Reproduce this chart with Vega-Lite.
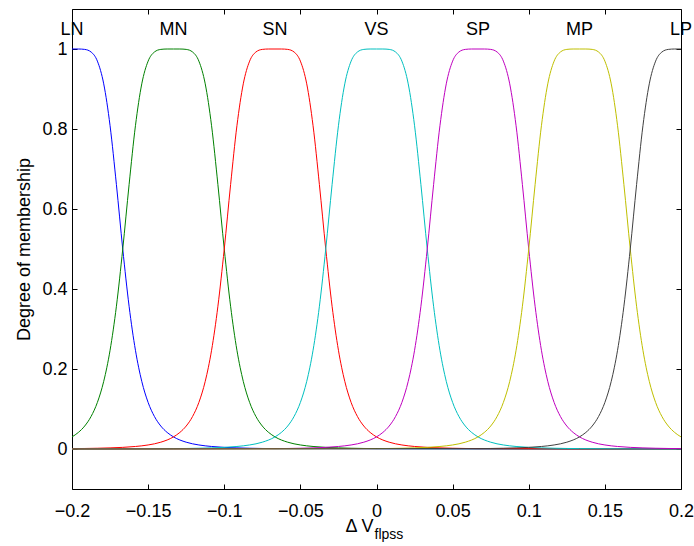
{
"$schema": "https://vega.github.io/schema/vega-lite/v6.json",
"width": 609,
"height": 480,
"autosize": {"type": "none"},
"padding": {"left": 72, "top": 9, "right": 13, "bottom": 57},
"background": "white",
"config": {"view": {"stroke": null}, "font": "Liberation Sans"},
"datasets": {
"lab": [{"label":"LN","c":-0.2},{"label":"MN","c":-0.13333},{"label":"SN","c":-0.06667},{"label":"VS","c":0},{"label":"SP","c":0.06667},{"label":"MP","c":0.13333},{"label":"LP","c":0.2}],
"mf": [
{"s":"LN","x":-0.2,"y":1},{"s":"LN","x":-0.19583,"y":1},{"s":"LN","x":-0.19167,"y":0.999},{"s":"LN","x":-0.1875,"y":0.9926},{"s":"LN","x":-0.18333,"y":0.9697},{"s":"LN","x":-0.17917,"y":0.9129},{"s":"LN","x":-0.175,"y":0.8082},{"s":"LN","x":-0.17083,"y":0.661},{"s":"LN","x":-0.16667,"y":0.5},{"s":"LN","x":-0.1625,"y":0.3569},{"s":"LN","x":-0.15833,"y":0.2468},{"s":"LN","x":-0.15417,"y":0.1691},{"s":"LN","x":-0.15,"y":0.1164},{"s":"LN","x":-0.14583,"y":0.0811},{"s":"LN","x":-0.14167,"y":0.0574},{"s":"LN","x":-0.1375,"y":0.0414},{"s":"LN","x":-0.13333,"y":0.0303},{"s":"LN","x":-0.125,"y":0.017},{"s":"LN","x":-0.11667,"y":0.0101},{"s":"LN","x":-0.10833,"y":0.0063},{"s":"LN","x":-0.1,"y":0.0041},{"s":"LN","x":-0.09167,"y":0.0028},{"s":"LN","x":-0.08333,"y":0.0019},{"s":"LN","x":-0.075,"y":0.0013},{"s":"LN","x":-0.06667,"y":0.001},{"s":"LN","x":0.2,"y":0},
{"s":"MN","x":-0.2,"y":0.0303},{"s":"MN","x":-0.19583,"y":0.0414},{"s":"MN","x":-0.19167,"y":0.0574},{"s":"MN","x":-0.1875,"y":0.0811},{"s":"MN","x":-0.18333,"y":0.1164},{"s":"MN","x":-0.17917,"y":0.1691},{"s":"MN","x":-0.175,"y":0.2468},{"s":"MN","x":-0.17083,"y":0.3569},{"s":"MN","x":-0.16667,"y":0.5},{"s":"MN","x":-0.1625,"y":0.661},{"s":"MN","x":-0.15833,"y":0.8082},{"s":"MN","x":-0.15417,"y":0.9129},{"s":"MN","x":-0.15,"y":0.9697},{"s":"MN","x":-0.14583,"y":0.9926},{"s":"MN","x":-0.14167,"y":0.999},{"s":"MN","x":-0.1375,"y":1},{"s":"MN","x":-0.13333,"y":1},{"s":"MN","x":-0.12917,"y":1},{"s":"MN","x":-0.125,"y":0.999},{"s":"MN","x":-0.12083,"y":0.9926},{"s":"MN","x":-0.11667,"y":0.9697},{"s":"MN","x":-0.1125,"y":0.9129},{"s":"MN","x":-0.10833,"y":0.8082},{"s":"MN","x":-0.10417,"y":0.661},{"s":"MN","x":-0.1,"y":0.5},{"s":"MN","x":-0.09583,"y":0.3569},{"s":"MN","x":-0.09167,"y":0.2468},{"s":"MN","x":-0.0875,"y":0.1691},{"s":"MN","x":-0.08333,"y":0.1164},{"s":"MN","x":-0.07917,"y":0.0811},{"s":"MN","x":-0.075,"y":0.0574},{"s":"MN","x":-0.07083,"y":0.0414},{"s":"MN","x":-0.06667,"y":0.0303},{"s":"MN","x":-0.05833,"y":0.017},{"s":"MN","x":-0.05,"y":0.0101},{"s":"MN","x":-0.04167,"y":0.0063},{"s":"MN","x":-0.03333,"y":0.0041},{"s":"MN","x":-0.025,"y":0.0028},{"s":"MN","x":-0.01667,"y":0.0019},{"s":"MN","x":-0.00833,"y":0.0013},{"s":"MN","x":0,"y":0.001},{"s":"MN","x":0.2,"y":0},
{"s":"SN","x":-0.2,"y":0.001},{"s":"SN","x":-0.19167,"y":0.0013},{"s":"SN","x":-0.18333,"y":0.0019},{"s":"SN","x":-0.175,"y":0.0028},{"s":"SN","x":-0.16667,"y":0.0041},{"s":"SN","x":-0.15833,"y":0.0063},{"s":"SN","x":-0.15,"y":0.0101},{"s":"SN","x":-0.14167,"y":0.017},{"s":"SN","x":-0.13333,"y":0.0303},{"s":"SN","x":-0.12917,"y":0.0414},{"s":"SN","x":-0.125,"y":0.0574},{"s":"SN","x":-0.12083,"y":0.0811},{"s":"SN","x":-0.11667,"y":0.1164},{"s":"SN","x":-0.1125,"y":0.1691},{"s":"SN","x":-0.10833,"y":0.2468},{"s":"SN","x":-0.10417,"y":0.3569},{"s":"SN","x":-0.1,"y":0.5},{"s":"SN","x":-0.09583,"y":0.661},{"s":"SN","x":-0.09167,"y":0.8082},{"s":"SN","x":-0.0875,"y":0.9129},{"s":"SN","x":-0.08333,"y":0.9697},{"s":"SN","x":-0.07917,"y":0.9926},{"s":"SN","x":-0.075,"y":0.999},{"s":"SN","x":-0.07083,"y":1},{"s":"SN","x":-0.06667,"y":1},{"s":"SN","x":-0.0625,"y":1},{"s":"SN","x":-0.05833,"y":0.999},{"s":"SN","x":-0.05417,"y":0.9926},{"s":"SN","x":-0.05,"y":0.9697},{"s":"SN","x":-0.04583,"y":0.9129},{"s":"SN","x":-0.04167,"y":0.8082},{"s":"SN","x":-0.0375,"y":0.661},{"s":"SN","x":-0.03333,"y":0.5},{"s":"SN","x":-0.02917,"y":0.3569},{"s":"SN","x":-0.025,"y":0.2468},{"s":"SN","x":-0.02083,"y":0.1691},{"s":"SN","x":-0.01667,"y":0.1164},{"s":"SN","x":-0.0125,"y":0.0811},{"s":"SN","x":-0.00833,"y":0.0574},{"s":"SN","x":-0.00417,"y":0.0414},{"s":"SN","x":0,"y":0.0303},{"s":"SN","x":0.00833,"y":0.017},{"s":"SN","x":0.01667,"y":0.0101},{"s":"SN","x":0.025,"y":0.0063},{"s":"SN","x":0.03333,"y":0.0041},{"s":"SN","x":0.04167,"y":0.0028},{"s":"SN","x":0.05,"y":0.0019},{"s":"SN","x":0.05833,"y":0.0013},{"s":"SN","x":0.06667,"y":0.001},{"s":"SN","x":0.2,"y":0},
{"s":"VS","x":-0.2,"y":0},{"s":"VS","x":-0.13333,"y":0.001},{"s":"VS","x":-0.125,"y":0.0013},{"s":"VS","x":-0.11667,"y":0.0019},{"s":"VS","x":-0.10833,"y":0.0028},{"s":"VS","x":-0.1,"y":0.0041},{"s":"VS","x":-0.09167,"y":0.0063},{"s":"VS","x":-0.08333,"y":0.0101},{"s":"VS","x":-0.075,"y":0.017},{"s":"VS","x":-0.06667,"y":0.0303},{"s":"VS","x":-0.0625,"y":0.0414},{"s":"VS","x":-0.05833,"y":0.0574},{"s":"VS","x":-0.05417,"y":0.0811},{"s":"VS","x":-0.05,"y":0.1164},{"s":"VS","x":-0.04583,"y":0.1691},{"s":"VS","x":-0.04167,"y":0.2468},{"s":"VS","x":-0.0375,"y":0.3569},{"s":"VS","x":-0.03333,"y":0.5},{"s":"VS","x":-0.02917,"y":0.661},{"s":"VS","x":-0.025,"y":0.8082},{"s":"VS","x":-0.02083,"y":0.9129},{"s":"VS","x":-0.01667,"y":0.9697},{"s":"VS","x":-0.0125,"y":0.9926},{"s":"VS","x":-0.00833,"y":0.999},{"s":"VS","x":-0.00417,"y":1},{"s":"VS","x":0,"y":1},{"s":"VS","x":0.00417,"y":1},{"s":"VS","x":0.00833,"y":0.999},{"s":"VS","x":0.0125,"y":0.9926},{"s":"VS","x":0.01667,"y":0.9697},{"s":"VS","x":0.02083,"y":0.9129},{"s":"VS","x":0.025,"y":0.8082},{"s":"VS","x":0.02917,"y":0.661},{"s":"VS","x":0.03333,"y":0.5},{"s":"VS","x":0.0375,"y":0.3569},{"s":"VS","x":0.04167,"y":0.2468},{"s":"VS","x":0.04583,"y":0.1691},{"s":"VS","x":0.05,"y":0.1164},{"s":"VS","x":0.05417,"y":0.0811},{"s":"VS","x":0.05833,"y":0.0574},{"s":"VS","x":0.0625,"y":0.0414},{"s":"VS","x":0.06667,"y":0.0303},{"s":"VS","x":0.075,"y":0.017},{"s":"VS","x":0.08333,"y":0.0101},{"s":"VS","x":0.09167,"y":0.0063},{"s":"VS","x":0.1,"y":0.0041},{"s":"VS","x":0.10833,"y":0.0028},{"s":"VS","x":0.11667,"y":0.0019},{"s":"VS","x":0.125,"y":0.0013},{"s":"VS","x":0.13333,"y":0.001},{"s":"VS","x":0.2,"y":0},
{"s":"SP","x":-0.2,"y":0},{"s":"SP","x":-0.06667,"y":0.001},{"s":"SP","x":-0.05833,"y":0.0013},{"s":"SP","x":-0.05,"y":0.0019},{"s":"SP","x":-0.04167,"y":0.0028},{"s":"SP","x":-0.03333,"y":0.0041},{"s":"SP","x":-0.025,"y":0.0063},{"s":"SP","x":-0.01667,"y":0.0101},{"s":"SP","x":-0.00833,"y":0.017},{"s":"SP","x":0,"y":0.0303},{"s":"SP","x":0.00417,"y":0.0414},{"s":"SP","x":0.00833,"y":0.0574},{"s":"SP","x":0.0125,"y":0.0811},{"s":"SP","x":0.01667,"y":0.1164},{"s":"SP","x":0.02083,"y":0.1691},{"s":"SP","x":0.025,"y":0.2468},{"s":"SP","x":0.02917,"y":0.3569},{"s":"SP","x":0.03333,"y":0.5},{"s":"SP","x":0.0375,"y":0.661},{"s":"SP","x":0.04167,"y":0.8082},{"s":"SP","x":0.04583,"y":0.9129},{"s":"SP","x":0.05,"y":0.9697},{"s":"SP","x":0.05417,"y":0.9926},{"s":"SP","x":0.05833,"y":0.999},{"s":"SP","x":0.0625,"y":1},{"s":"SP","x":0.06667,"y":1},{"s":"SP","x":0.07083,"y":1},{"s":"SP","x":0.075,"y":0.999},{"s":"SP","x":0.07917,"y":0.9926},{"s":"SP","x":0.08333,"y":0.9697},{"s":"SP","x":0.0875,"y":0.9129},{"s":"SP","x":0.09167,"y":0.8082},{"s":"SP","x":0.09583,"y":0.661},{"s":"SP","x":0.1,"y":0.5},{"s":"SP","x":0.10417,"y":0.3569},{"s":"SP","x":0.10833,"y":0.2468},{"s":"SP","x":0.1125,"y":0.1691},{"s":"SP","x":0.11667,"y":0.1164},{"s":"SP","x":0.12083,"y":0.0811},{"s":"SP","x":0.125,"y":0.0574},{"s":"SP","x":0.12917,"y":0.0414},{"s":"SP","x":0.13333,"y":0.0303},{"s":"SP","x":0.14167,"y":0.017},{"s":"SP","x":0.15,"y":0.0101},{"s":"SP","x":0.15833,"y":0.0063},{"s":"SP","x":0.16667,"y":0.0041},{"s":"SP","x":0.175,"y":0.0028},{"s":"SP","x":0.18333,"y":0.0019},{"s":"SP","x":0.19167,"y":0.0013},{"s":"SP","x":0.2,"y":0.001},
{"s":"MP","x":-0.2,"y":0},{"s":"MP","x":0,"y":0.001},{"s":"MP","x":0.00833,"y":0.0013},{"s":"MP","x":0.01667,"y":0.0019},{"s":"MP","x":0.025,"y":0.0028},{"s":"MP","x":0.03333,"y":0.0041},{"s":"MP","x":0.04167,"y":0.0063},{"s":"MP","x":0.05,"y":0.0101},{"s":"MP","x":0.05833,"y":0.017},{"s":"MP","x":0.06667,"y":0.0303},{"s":"MP","x":0.07083,"y":0.0414},{"s":"MP","x":0.075,"y":0.0574},{"s":"MP","x":0.07917,"y":0.0811},{"s":"MP","x":0.08333,"y":0.1164},{"s":"MP","x":0.0875,"y":0.1691},{"s":"MP","x":0.09167,"y":0.2468},{"s":"MP","x":0.09583,"y":0.3569},{"s":"MP","x":0.1,"y":0.5},{"s":"MP","x":0.10417,"y":0.661},{"s":"MP","x":0.10833,"y":0.8082},{"s":"MP","x":0.1125,"y":0.9129},{"s":"MP","x":0.11667,"y":0.9697},{"s":"MP","x":0.12083,"y":0.9926},{"s":"MP","x":0.125,"y":0.999},{"s":"MP","x":0.12917,"y":1},{"s":"MP","x":0.13333,"y":1},{"s":"MP","x":0.1375,"y":1},{"s":"MP","x":0.14167,"y":0.999},{"s":"MP","x":0.14583,"y":0.9926},{"s":"MP","x":0.15,"y":0.9697},{"s":"MP","x":0.15417,"y":0.9129},{"s":"MP","x":0.15833,"y":0.8082},{"s":"MP","x":0.1625,"y":0.661},{"s":"MP","x":0.16667,"y":0.5},{"s":"MP","x":0.17083,"y":0.3569},{"s":"MP","x":0.175,"y":0.2468},{"s":"MP","x":0.17917,"y":0.1691},{"s":"MP","x":0.18333,"y":0.1164},{"s":"MP","x":0.1875,"y":0.0811},{"s":"MP","x":0.19167,"y":0.0574},{"s":"MP","x":0.19583,"y":0.0414},{"s":"MP","x":0.2,"y":0.0303},
{"s":"LP","x":-0.2,"y":0},{"s":"LP","x":0.06667,"y":0.001},{"s":"LP","x":0.075,"y":0.0013},{"s":"LP","x":0.08333,"y":0.0019},{"s":"LP","x":0.09167,"y":0.0028},{"s":"LP","x":0.1,"y":0.0041},{"s":"LP","x":0.10833,"y":0.0063},{"s":"LP","x":0.11667,"y":0.0101},{"s":"LP","x":0.125,"y":0.017},{"s":"LP","x":0.13333,"y":0.0303},{"s":"LP","x":0.1375,"y":0.0414},{"s":"LP","x":0.14167,"y":0.0574},{"s":"LP","x":0.14583,"y":0.0811},{"s":"LP","x":0.15,"y":0.1164},{"s":"LP","x":0.15417,"y":0.1691},{"s":"LP","x":0.15833,"y":0.2468},{"s":"LP","x":0.1625,"y":0.3569},{"s":"LP","x":0.16667,"y":0.5},{"s":"LP","x":0.17083,"y":0.661},{"s":"LP","x":0.175,"y":0.8082},{"s":"LP","x":0.17917,"y":0.9129},{"s":"LP","x":0.18333,"y":0.9697},{"s":"LP","x":0.1875,"y":0.9926},{"s":"LP","x":0.19167,"y":0.999},{"s":"LP","x":0.19583,"y":1},{"s":"LP","x":0.2,"y":1}
]
},
"layer": [
{
"data": {"name": "mf"},
"mark": {"type": "line", "strokeWidth": 1, "interpolate": "monotone", "clip": true},
"encoding": {
"x": {"field": "x", "type": "quantitative", "scale": {"domain": [-0.2, 0.2], "nice": false, "zero": false},
"axis": {"orient": "bottom", "values": [-0.2,-0.15,-0.1,-0.05,0,0.05,0.1,0.15,0.2], "format": "~g", "grid": false, "title": null, "labelFontSize": 18, "labelColor": "black", "labelPadding": 18, "labelFlush": false, "tickSize": -5, "tickColor": "black", "domainColor": "black", "labelFont": "Liberation Sans"}},
"y": {"field": "y", "type": "quantitative", "scale": {"domain": [-0.1, 1.1], "nice": false, "zero": false},
"axis": {"orient": "left", "values": [0,0.2,0.4,0.6,0.8,1], "format": "~g", "grid": false, "title": "Degree of membership", "titleFontSize": 18, "titleFontWeight": "normal", "titleColor": "black", "titlePadding": 8, "titleFont": "Liberation Sans", "labelFontSize": 18, "labelColor": "black", "labelPadding": 10, "labelFlush": false, "tickSize": -5, "tickColor": "black", "domainColor": "black", "labelFont": "Liberation Sans"}},
"color": {"field": "s", "type": "nominal", "scale": {"domain": ["LN","MN","SN","VS","SP","MP","LP"], "range": ["#0000ff","#008000","#ff0000","#00bfbf","#bf00bf","#bfbf00","#404040"]}, "legend": null}
}
},
{
"data": {"name": "mf"},
"mark": {"type": "point", "opacity": 0, "size": 1},
"encoding": {
"x": {"field": "x", "type": "quantitative", "axis": {"orient": "top", "values": [-0.2,-0.15,-0.1,-0.05,0,0.05,0.1,0.15,0.2], "labels": false, "grid": false, "title": null, "tickSize": -5, "tickColor": "black", "domainColor": "black"}},
"y": {"field": "y", "type": "quantitative", "axis": {"orient": "right", "values": [0,0.2,0.4,0.6,0.8,1], "labels": false, "grid": false, "title": null, "tickSize": -5, "tickColor": "black", "domainColor": "black"}}
}
},
{
"data": {"name": "lab"},
"mark": {"type": "text", "fontSize": 18, "font": "Liberation Sans", "align": "center", "baseline": "middle", "color": "black", "dy": 1},
"encoding": {
"x": {"field": "c", "type": "quantitative", "axis": null},
"y": {"datum": 1.05, "axis": null},
"text": {"field": "label"}
}
},
{
"data": {"values": [{}]},
"mark": {"type": "text", "text": "Δ V", "fontSize": 18, "font": "Liberation Sans", "align": "right", "baseline": "alphabetic", "color": "black", "dx": -3, "dy": 43},
"encoding": {"x": {"datum": 0, "axis": null}, "y": {"datum": -0.1, "axis": null}}
},
{
"data": {"values": [{}]},
"mark": {"type": "text", "text": "flpss", "fontSize": 14, "font": "Liberation Sans", "align": "left", "baseline": "alphabetic", "color": "black", "dx": -2, "dy": 50},
"encoding": {"x": {"datum": 0, "axis": null}, "y": {"datum": -0.1, "axis": null}}
}
],
"resolve": {"axis": {"x": "independent", "y": "independent"}}
}
